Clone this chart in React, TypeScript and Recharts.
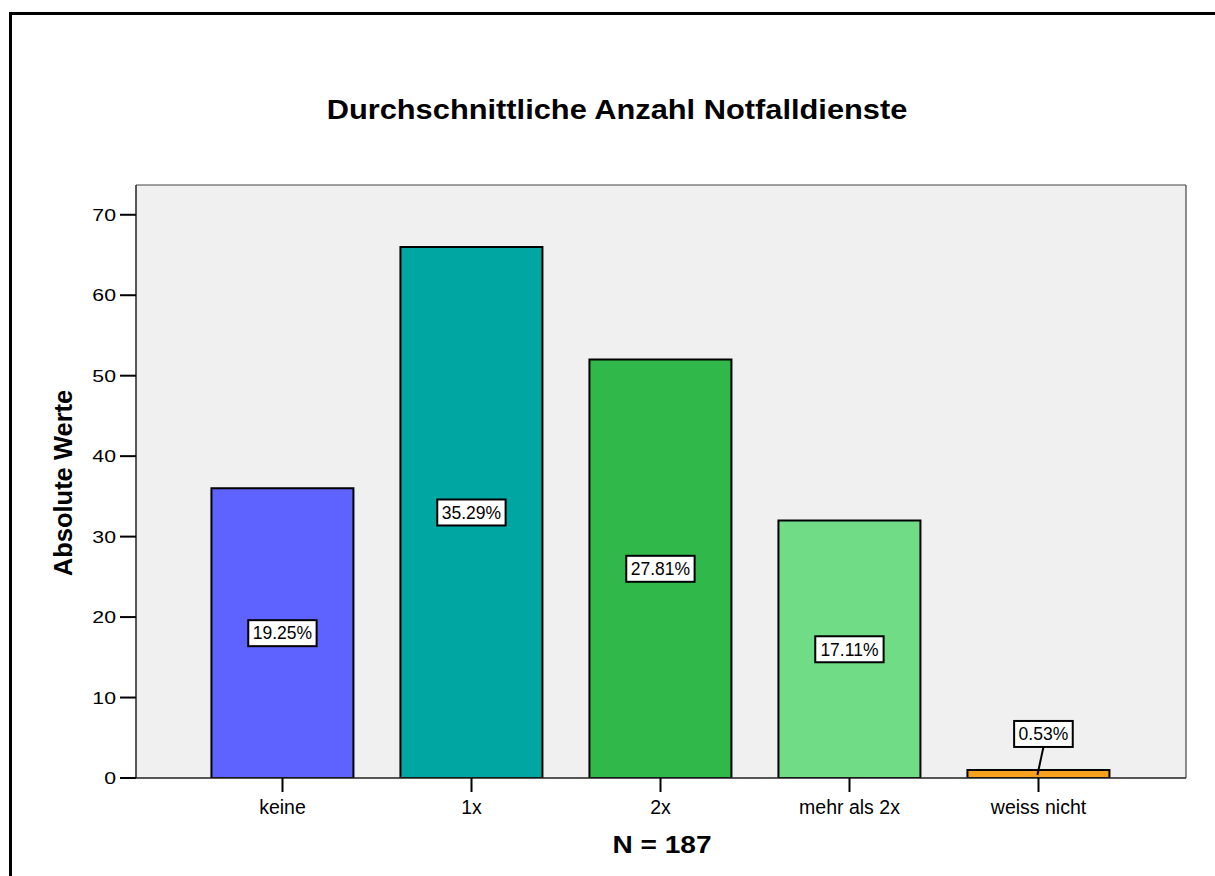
import { BarChart, Bar, XAxis, YAxis, CartesianGrid, Cell, LabelList } from 'recharts';

const categories = ['keine', '1x', '2x', 'mehr als 2x', 'weiss nicht'];
const counts = [36, 66, 52, 32, 1];
const barColors = ['#5e62ff', '#00a6a2', '#31b84a', '#70dc85', '#f7a11e'];
const yTicks = [0, 10, 20, 30, 40, 50, 60, 70];

const total = counts.reduce((s, v) => s + v, 0);
const chartData = categories.map((name, i) => ({ name, count: counts[i] }));

const FONT = '"Liberation Sans", Arial, Helvetica, sans-serif';
const LABEL_SIZE = 17.5;

// rough Arial widths, enough to size the label boxes
const textWidth = (s: string, size: number) =>
  s.split('').reduce((w, c) => w + (c === '%' ? 0.889 : c === '.' ? 0.278 : 0.556), 0) * size;

const PercentLabel = (props: any) => {
  const { x, y, width, height, value } = props;
  const text = `${((value / total) * 100).toFixed(2)}%`;
  const boxW = textWidth(text, LABEL_SIZE) + 9;
  const boxH = 26;
  const cx = x + width / 2;
  // short bars get the box above them with a leader line
  const small = height < boxH + 6;
  const bx = small ? cx + 5 : cx;
  const by = small ? y - 36 : y + height / 2;
  return (
    <g>
      {small && (
        <line x1={bx} y1={by + boxH / 2} x2={cx - 1} y2={y + height / 2 + 1} stroke="#000" strokeWidth={2} />
      )}
      <rect x={bx - boxW / 2} y={by - boxH / 2} width={boxW} height={boxH} fill="#fff" stroke="#000" strokeWidth={2} />
      <text x={bx} y={by + 6.3} textAnchor="middle" fontSize={LABEL_SIZE} fontFamily={FONT} fill="#000">{text}</text>
    </g>
  );
};

// value ticks are drawn a little wide
const YTick = (props: any) => {
  const { x, y, payload } = props;
  return (
    <text
      x={x}
      y={y}
      dy={6}
      textAnchor="end"
      fontSize={17}
      fontFamily={FONT}
      fill="#000"
      transform={`translate(${x} ${y}) scale(1.25 1) translate(${-x} ${-y})`}
    >
      {payload.value}
    </text>
  );
};

export default function App() {
  return (
    <div style={{ position: 'absolute', left: 0, top: 0, width: 1215, height: 876, overflow: 'hidden', background: '#fff', fontFamily: FONT }}>
      <div style={{ position: 'absolute', left: 9, top: 12, width: 1240, height: 900, border: '3px solid #000', boxSizing: 'border-box' }} />
      <div style={{ position: 'absolute', left: 0, width: 1234, top: 95, textAlign: 'center', fontSize: 28, fontWeight: 'bold', color: '#000', lineHeight: '30px', transform: 'scaleX(1.1)' }}>
        Durchschnittliche Anzahl Notfalldienste
      </div>
      <div style={{ position: 'absolute', left: 63, top: 483, transform: 'translate(-50%, -50%) rotate(-90deg)', fontSize: 25.5, fontWeight: 'bold', whiteSpace: 'nowrap', color: '#000' }}>
        Absolute Werte
      </div>
      <div style={{ position: 'absolute', left: 662, top: 845, transform: 'translate(-50%, -50%) scaleX(1.17)', fontSize: 24, fontWeight: 'bold', whiteSpace: 'nowrap', color: '#000' }}>
        N = 187
      </div>
      <BarChart
        width={1215}
        height={876}
        data={chartData}
        margin={{ top: 185, right: 29, bottom: 38, left: 36 }}
        barCategoryGap="12.4%"
        style={{ position: 'absolute', left: 0, top: 0 }}
      >
        {/* plot background, with its top and right edges as frame lines */}
        <CartesianGrid
          fill="#f0f0f0"
          stroke="#444"
          strokeWidth={1.2}
          strokeDasharray=""
          horizontalCoordinatesGenerator={({ offset }: any) => [offset.top]}
          verticalCoordinatesGenerator={({ offset }: any) => [offset.left + offset.width]}
        />
        <XAxis
          dataKey="name"
          height={60}
          padding={{ left: 52, right: 53 }}
          tickSize={14}
          tickMargin={8}
          axisLine={{ stroke: '#222', strokeWidth: 1.5 }}
          tickLine={{ stroke: '#000', strokeWidth: 2 }}
          tick={{ fontSize: 19.5, fill: '#000', fontFamily: FONT }}
          interval={0}
        />
        <YAxis
          width={100}
          domain={[0, 73.7]}
          ticks={yTicks}
          allowDataOverflow
          tickSize={16}
          tickMargin={4}
          axisLine={{ stroke: '#222', strokeWidth: 1.5 }}
          tickLine={{ stroke: '#000', strokeWidth: 2 }}
          tick={YTick}
        />
        <Bar dataKey="count" stroke="#000" strokeWidth={2} isAnimationActive={false}>
          {chartData.map((_, i) => (
            <Cell key={`cell-${i}`} fill={barColors[i]} />
          ))}
          <LabelList dataKey="count" content={PercentLabel} />
        </Bar>
      </BarChart>
    </div>
  );
}
